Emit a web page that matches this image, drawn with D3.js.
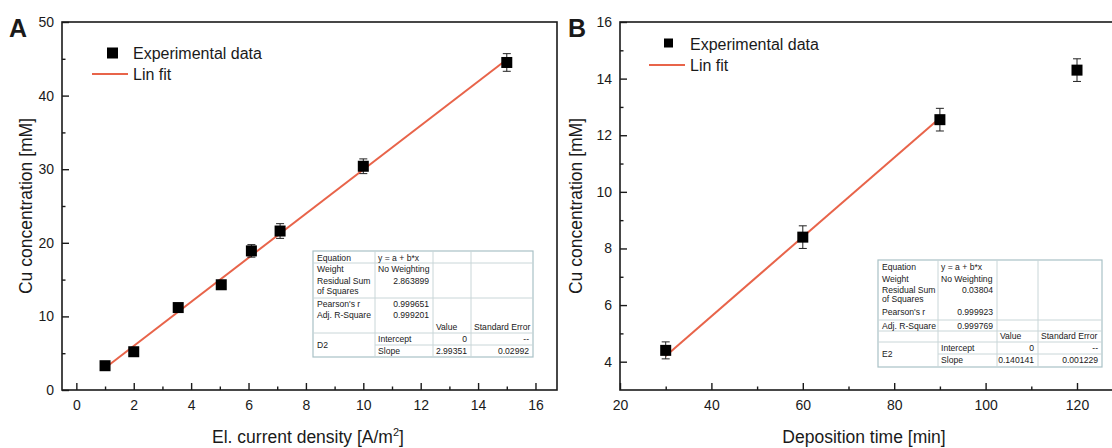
<!DOCTYPE html>
<html lang="en">
<head>
    <meta charset="UTF-8">
    <title>Cu concentration</title>
    <script src="https://d3js.org/d3.v7.min.js"></script>
    <style>
        body { margin: 0; background: #fff; }
        text { font-family: "Liberation Sans", Arial, sans-serif; fill: #1a1a1a; }
    </style>
</head>
<body>
<svg id="chart" width="1112" height="448"></svg>

<script>
    // panel A: concentration vs current density
    const densityA = [1, 2, 3.55, 5.05, 6.1, 7.1, 10, 15];
    const concA = [3.3, 5.2, 11.2, 14.3, 18.9, 21.6, 30.4, 44.5];
    const errA = [0.3, 0.4, 0.4, 0.4, 0.85, 1.0, 1.0, 1.2];
    const slopeA = 2.99351;
    const tableA = [
        ["2.863899", "0.999651", "0.999201"],
        ["0", "--", "2.99351", "0.02992"]
    ];

    // panel B: concentration vs deposition time
    const timeB = [30, 60, 90, 120];
    const concB = [4.4, 8.4, 12.55, 14.3];
    const errB = [0.3, 0.4, 0.4, 0.4];
    const slopeB = 0.140141;
    const tableB = [
        ["0.03804", "0.999923", "0.999769"],
        ["0", "--", "0.140141", "0.001229"]
    ];

    const svg = d3.select("#chart");
    svg.append("rect").attr("width", 1112).attr("height", 448).attr("fill", "#fff");

    function panel(o) {
        const x = d3.scaleLinear().domain(o.xDomain).range(o.xRange);
        const y = d3.scaleLinear().domain(o.yDomain).range([390, 22]);
        const g = svg.append("g");

        // minor ticks
        g.append("g").attr("transform", "translate(0,390)")
            .call(d3.axisBottom(x).tickValues(o.xMinor).tickSize(-3.5).tickFormat(""))
            .call(a => a.select(".domain").remove());
        g.append("g").attr("transform", "translate(" + o.xRange[0] + ",0)")
            .call(d3.axisLeft(y).tickValues(o.yMinor).tickSize(-3.5).tickFormat(""))
            .call(a => a.select(".domain").remove());

        // major ticks
        const xa = g.append("g").attr("transform", "translate(0,390)")
            .call(d3.axisBottom(x).tickValues(o.xMajor).tickSize(-7).tickPadding(10));
        const ya = g.append("g").attr("transform", "translate(" + o.xRange[0] + ",0)")
            .call(d3.axisLeft(y).tickValues(o.yMajor).tickSize(-7).tickPadding(8));
        [xa, ya].forEach(a => {
            a.select(".domain").remove();
            a.selectAll("text").style("font-size", "14px").attr("fill", "#1a1a1a");
        });
        g.selectAll(".tick line").attr("stroke", "#1a1a1a").attr("stroke-width", 1.4);

        // frame
        g.append("rect")
            .attr("x", o.xRange[0]).attr("y", 22)
            .attr("width", o.xRange[1] - o.xRange[0]).attr("height", 368)
            .attr("fill", "none").attr("stroke", "#1a1a1a").attr("stroke-width", 1.6);

        // fit line
        const fx = [o.xs[0], o.xs[o.fitN - 1]];
        g.append("line")
            .attr("x1", x(fx[0])).attr("y1", y(fx[0] * o.slope))
            .attr("x2", x(fx[1])).attr("y2", y(fx[1] * o.slope))
            .attr("stroke", "#e8644a").attr("stroke-width", 2);

        // error bars
        const pts = o.xs.map((v, i) => ({ x: v, y: o.ys[i], e: o.es[i] }));
        const eb = g.append("g").attr("stroke", "#222").attr("stroke-width", 1);
        eb.selectAll(".v").data(pts).enter().append("line")
            .attr("x1", d => x(d.x)).attr("x2", d => x(d.x))
            .attr("y1", d => y(d.y - d.e)).attr("y2", d => y(d.y + d.e));
        eb.selectAll(".c").data(pts.flatMap(d => [[d.x, d.y - d.e], [d.x, d.y + d.e]])).enter().append("line")
            .attr("x1", d => x(d[0]) - 4).attr("x2", d => x(d[0]) + 4)
            .attr("y1", d => y(d[1])).attr("y2", d => y(d[1]));

        // squares
        g.selectAll(".pt").data(pts).enter().append("rect")
            .attr("x", d => x(d.x) - 5.5).attr("y", d => y(d.y) - 5.5)
            .attr("width", 11).attr("height", 11).attr("fill", "#000");

        // legend
        const lg = g.append("g").attr("transform", "translate(" + o.legend[0] + "," + o.legend[1] + ")");
        lg.append("rect").attr("x", -26).attr("y", -5.5).attr("width", o.legendSq).attr("height", o.legendSq).attr("fill", "#000");
        lg.append("text").attr("x", 0).attr("y", 5.5).style("font-size", "16px").text("Experimental data");
        lg.append("line").attr("x1", -41).attr("x2", -5).attr("y1", 21).attr("y2", 21)
            .attr("stroke", "#e8644a").attr("stroke-width", 2);
        lg.append("text").attr("x", 0).attr("y", 26.5).style("font-size", "16px").text("Lin fit");

        // titles
        g.append("text").attr("x", o.letter[0]).attr("y", o.letter[1])
            .style("font-size", "25px").style("font-weight", "bold").attr("fill", "#000").text(o.label);
        g.append("text")
            .attr("transform", "translate(" + o.yTitleX + ",206) rotate(-90)")
            .attr("text-anchor", "middle").style("font-size", "17.5px").text("Cu concentration [mM]");
        const xt = g.append("text").attr("x", o.xTitleX).attr("y", 443)
            .attr("text-anchor", "middle").style("font-size", "17.5px");
        o.xTitle(xt);

        // results table
        table(o.table, o.tableVals, o.tableName);
    }

    function table(t, vals, name) {
        const g = svg.append("g").attr("transform", "translate(" + t.x + "," + t.y + ")");
        const c = t.cols, w = c[4] - c[0], h = t.h;
        g.append("rect").attr("x", 0).attr("y", 0).attr("width", w).attr("height", h)
            .attr("fill", "#fff").attr("stroke", "#a9c1c6").attr("stroke-width", 1.2);
        const ln = g.append("g").attr("stroke", "#c9d6d8").attr("stroke-width", 1);
        c.slice(1, 4).forEach(cx => ln.append("line").attr("x1", cx - c[0]).attr("x2", cx - c[0]).attr("y1", 0).attr("y2", h));
        t.hLines.forEach(l => ln.append("line").attr("x1", l[1]).attr("x2", w).attr("y1", l[0]).attr("y2", l[0]));
        const col = i => c[i] - c[0];
        const r = t.rows;
        const tx = (xx, yy, s, anchor) => g.append("text").attr("x", xx).attr("y", yy)
            .attr("text-anchor", anchor || "start").style("font-size", "8.6px").attr("fill", "#333").text(s);
        tx(4, r[0], "Equation");
        tx(col(1) + 3, r[0], "y = a + b*x");
        tx(4, r[1], "Weight");
        tx(col(1) + 3, r[1], "No Weighting");
        tx(4, r[2], "Residual Sum");
        tx(4, r[3], "of Squares");
        tx(col(2) - 4, r[2], vals[0][0], "end");
        tx(4, r[4], "Pearson's r");
        tx(col(2) - 4, r[4], vals[0][1], "end");
        tx(4, r[5], "Adj. R-Square");
        tx(col(2) - 4, r[5], vals[0][2], "end");
        tx(col(2) + 3, r[6], "Value");
        tx(col(3) + 3, r[6], "Standard Error");
        tx(4, (r[7] + r[8]) / 2, name);
        tx(col(1) + 3, r[7], "Intercept");
        tx(col(3) - 4, r[7], vals[1][0], "end");
        tx(w - 4, r[7], vals[1][1], "end");
        tx(col(1) + 3, r[8], "Slope");
        tx(col(3) - 4, r[8], vals[1][2], "end");
        tx(w - 4, r[8], vals[1][3], "end");
    }

    panel({
        label: "A", letter: [9, 37],
        xDomain: [-0.5, 16.75], xRange: [62, 557],
        yDomain: [0, 50],
        xMajor: d3.range(0, 17, 2), xMinor: d3.range(1, 17, 2),
        yMajor: d3.range(0, 51, 10), yMinor: d3.range(5, 50, 10),
        xs: densityA, ys: concA, es: errA, slope: slopeA, fitN: densityA.length,
        legend: [133, 53], legendSq: 11,
        yTitleX: 32, xTitleX: 308,
        xTitle: t => {
            t.append("tspan").text("El. current density [A/m");
            t.append("tspan").attr("dy", -7).style("font-size", "11px").text("2");
            t.append("tspan").attr("dy", 7).text("]");
        },
        table: {
            x: 313, y: 251, h: 106, cols: [313, 375, 433, 471, 533],
            hLines: [[12, 0], [47, 0], [82, 0], [94, 62]],
            rows: [10, 21, 33, 43, 56, 67, 79, 91, 103]
        },
        tableVals: tableA, tableName: "D2"
    });

    panel({
        label: "B", letter: [568, 37],
        xDomain: [20, 130], xRange: [620, 1122.7],
        yDomain: [3, 16],
        xMajor: d3.range(20, 121, 20), xMinor: d3.range(30, 131, 20),
        yMajor: d3.range(4, 17, 2), yMinor: d3.range(5, 16, 2),
        xs: timeB, ys: concB, es: errB, slope: slopeB, fitN: 3,
        legend: [690, 44], legendSq: 9,
        yTitleX: 582, xTitleX: 864,
        xTitle: t => t.text("Deposition time [min]"),
        table: {
            x: 878, y: 260, h: 107, cols: [878, 938, 997, 1038, 1102],
            hLines: [[60, 0], [71, 0], [82, 0], [94, 60]],
            rows: [10, 22, 33, 42, 55, 69, 79, 91, 103]
        },
        tableVals: tableB, tableName: "E2"
    });
</script>
</body>
</html>
